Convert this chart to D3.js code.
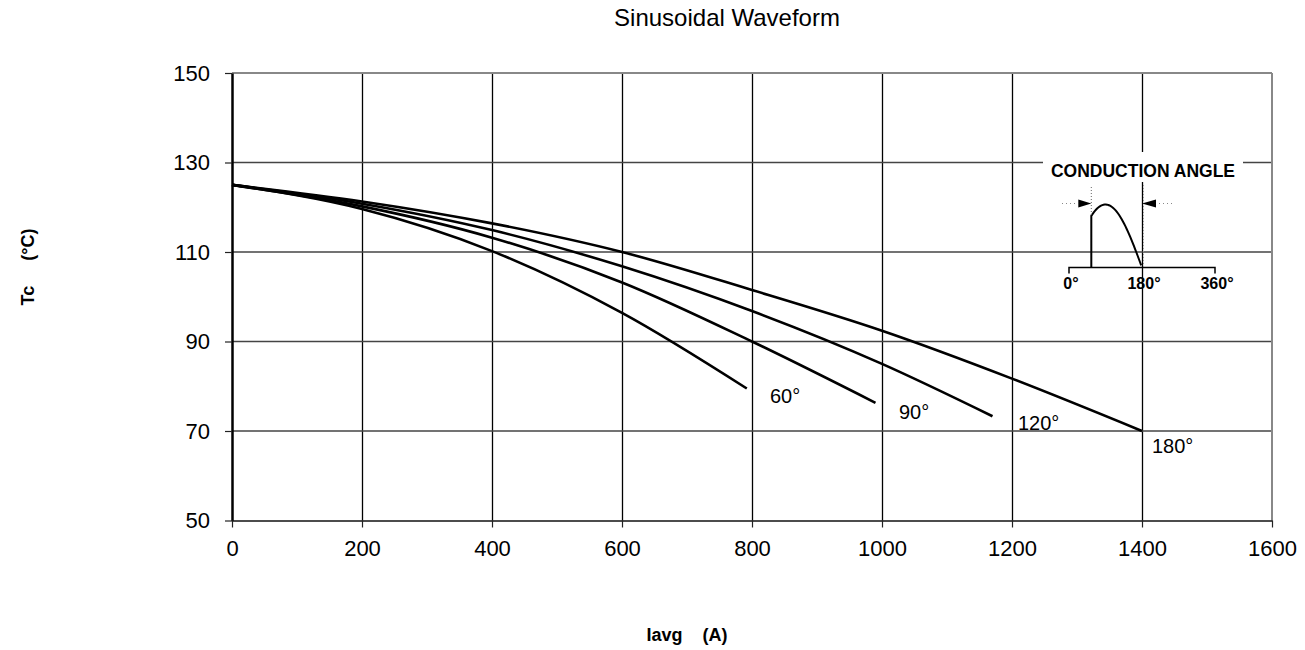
<!DOCTYPE html>
<html>
<head>
<meta charset="utf-8">
<script src="https://cdn.jsdelivr.net/npm/d3@7"></script>
<style>
  body { margin: 0; background: #fff; }
  svg { display: block; font-family: "Liberation Sans", Arial, sans-serif; }
</style>
</head>
<body>
<svg id="chart" width="1305" height="650"></svg>
<script>
"use strict";

// data
const xTicks = [0, 200, 400, 600, 800, 1000, 1200, 1400, 1600];
const yTicks = [50, 70, 90, 110, 130, 150];
const angles = ["60°", "90°", "120°", "180°"];

const iavg60 = [0, 200, 400, 600, 792];
const tc60 = [125, 119.6, 110.2, 96.4, 79.5];
const iavg90 = [0, 200, 400, 600, 800, 990];
const tc90 = [125, 120.2, 113.2, 103.2, 90, 76.3];
const iavg120 = [0, 200, 400, 600, 800, 1000, 1170];
const tc120 = [125, 120.8, 114.9, 106.8, 96.8, 85, 73.3];
const iavg180 = [0, 200, 400, 600, 800, 1000, 1200, 1400];
const tc180 = [125, 121.3, 116.4, 110, 101.5, 92.4, 81.7, 70];

// inset waveform angles (degrees)
const insetTicks = [0, 180, 360];
const conductionStart = 55;

const svg = d3.select("#chart");

const x = d3.scaleLinear().domain([0, 1600]).range([232, 1272]);
const y = d3.scaleLinear().domain([50, 150]).range([520.5, 73]);

// title
svg.append("text")
    .attr("x", 727).attr("y", 26)
    .attr("text-anchor", "middle")
    .style("font-size", "24px")
    .text("Sinusoidal Waveform");

// vertical grid
svg.append("g")
    .selectAll("line")
    .data(xTicks.filter(d => d > 0 && d < 1600))
    .enter().append("line")
    .attr("x1", d => x(d) + 0.5).attr("x2", d => x(d) + 0.5)
    .attr("y1", y(150)).attr("y2", y(50))
    .style("stroke", "#000").style("stroke-width", 1.3);

// horizontal grid
svg.append("g")
    .selectAll("line")
    .data(yTicks.filter(d => d > 50 && d < 150))
    .enter().append("line")
    .attr("x1", x(0)).attr("x2", x(1600))
    .attr("y1", d => y(d)).attr("y2", d => y(d))
    .style("stroke", "#444").style("stroke-width", 1.5);

// top and right frame
svg.append("line")
    .attr("x1", x(0)).attr("x2", x(1600))
    .attr("y1", y(150)).attr("y2", y(150))
    .style("stroke", "#888").style("stroke-width", 2);
svg.append("line")
    .attr("x1", x(1600)).attr("x2", x(1600))
    .attr("y1", y(150)).attr("y2", y(50))
    .style("stroke", "#888").style("stroke-width", 2);

// axes
let yAxis = svg.append("g")
    .attr("transform", "translate(" + x(0) + ",0)")
    .call(d3.axisLeft(y).tickValues(yTicks).tickSize(7).tickPadding(15).tickSizeOuter(0));
let xAxis = svg.append("g")
    .attr("transform", "translate(0," + y(50) + ")")
    .call(d3.axisBottom(x).tickValues(xTicks).tickFormat(d3.format("d"))
        .tickSize(7).tickPadding(13).tickSizeOuter(0));

yAxis.select(".domain").style("stroke", "#000").style("stroke-width", 2.5);
xAxis.select(".domain").style("stroke", "#111").style("stroke-width", 1.5);
svg.selectAll(".tick line").style("stroke", "#222").style("stroke-width", 1.2);
svg.selectAll(".tick text")
    .style("font-family", '"Liberation Sans", Arial, sans-serif')
    .style("font-size", "22px")
    .style("fill", "#000");

// axis titles
svg.append("text")
    .attr("x", 687).attr("y", 641)
    .attr("text-anchor", "middle")
    .style("font-size", "18px").style("font-weight", "bold")
    .style("white-space", "pre")
    .text("Iavg    (A)");
svg.append("text")
    .attr("transform", "translate(34,267) rotate(-90)")
    .attr("text-anchor", "middle")
    .style("font-size", "18px").style("font-weight", "bold")
    .style("white-space", "pre")
    .text("Tc     (°C)");

// curves
const series = [
    { name: angles[0], xs: iavg60, ys: tc60, lx: 770, ly: 403 },
    { name: angles[1], xs: iavg90, ys: tc90, lx: 899, ly: 419 },
    { name: angles[2], xs: iavg120, ys: tc120, lx: 1018, ly: 430 },
    { name: angles[3], xs: iavg180, ys: tc180, lx: 1152, ly: 453 }
];

const line = d3.line()
    .x(d => x(d[0]))
    .y(d => y(d[1]))
    .curve(d3.curveMonotoneX);

let curves = svg.append("g").selectAll("g")
    .data(series)
    .enter().append("g");

curves.append("path")
    .attr("d", d => line(d3.zip(d.xs, d.ys)))
    .style("fill", "none")
    .style("stroke", "#000")
    .style("stroke-width", 2.6);

curves.append("text")
    .attr("x", d => d.lx).attr("y", d => d.ly)
    .style("font-size", "20px")
    .text(d => d.name);

// inset: conduction angle sketch
const inset = svg.append("g");
const ax = d3.scaleLinear().domain([0, 360]).range([1069, 1215]);
const base = 267.5, amp = 63;

inset.append("rect")
    .attr("x", 1043).attr("y", 152).attr("width", 200).attr("height", 30)
    .style("fill", "#fff");
inset.append("text")
    .attr("x", 1143).attr("y", 177)
    .attr("text-anchor", "middle")
    .style("font-size", "17.5px").style("font-weight", "bold")
    .text("CONDUCTION ANGLE");

// baseline with end ticks
inset.append("path")
    .attr("d", "M" + ax(0) + "," + (base + 6) + "V" + base + "H" + ax(360) + "V" + (base + 6))
    .style("fill", "none").style("stroke", "#000").style("stroke-width", 1.5);

// half sine from the firing angle to 180
let wave = [[conductionStart, 0]];
for (let a = conductionStart; a <= 180; a += 3) wave.push([a, Math.sin(a * Math.PI / 180)]);
inset.append("path")
    .attr("d", d3.line().x(d => ax(d[0])).y(d => base - amp * d[1])(wave))
    .style("fill", "none").style("stroke", "#000").style("stroke-width", 2);

// dotted guides
inset.append("line")
    .attr("x1", ax(conductionStart)).attr("x2", ax(conductionStart))
    .attr("y1", 187).attr("y2", base - amp * Math.sin(conductionStart * Math.PI / 180))
    .style("stroke", "#666").style("stroke-dasharray", "1,2");
inset.append("line")
    .attr("x1", ax(180) + 1.5).attr("x2", ax(180) + 1.5)
    .attr("y1", 185).attr("y2", base)
    .style("stroke", "#999").style("stroke-dasharray", "1,2");
inset.append("line")
    .attr("x1", 1062).attr("x2", 1075).attr("y1", 203.5).attr("y2", 203.5)
    .style("stroke", "#888").style("stroke-dasharray", "1,3");
inset.append("line")
    .attr("x1", 1159).attr("x2", 1172).attr("y1", 203.5).attr("y2", 203.5)
    .style("stroke", "#888").style("stroke-dasharray", "1,3");

// arrows
let a1 = ax(conductionStart), a2 = ax(180);
inset.append("path")
    .attr("d", "M" + a1 + ",203.5L" + (a1 - 13) + ",199.5L" + (a1 - 13) + ",207.5Z")
    .style("fill", "#000");
inset.append("path")
    .attr("d", "M" + a2 + ",203.5L" + (a2 + 14) + ",199.5L" + (a2 + 14) + ",207.5Z")
    .style("fill", "#000");

inset.selectAll(".lbl")
    .data(insetTicks)
    .enter().append("text")
    .attr("class", "lbl")
    .attr("x", d => ax(d) + 2).attr("y", 289)
    .attr("text-anchor", "middle")
    .style("font-size", "16px").style("font-weight", "bold")
    .text(d => d + "°");
</script>
</body>
</html>
